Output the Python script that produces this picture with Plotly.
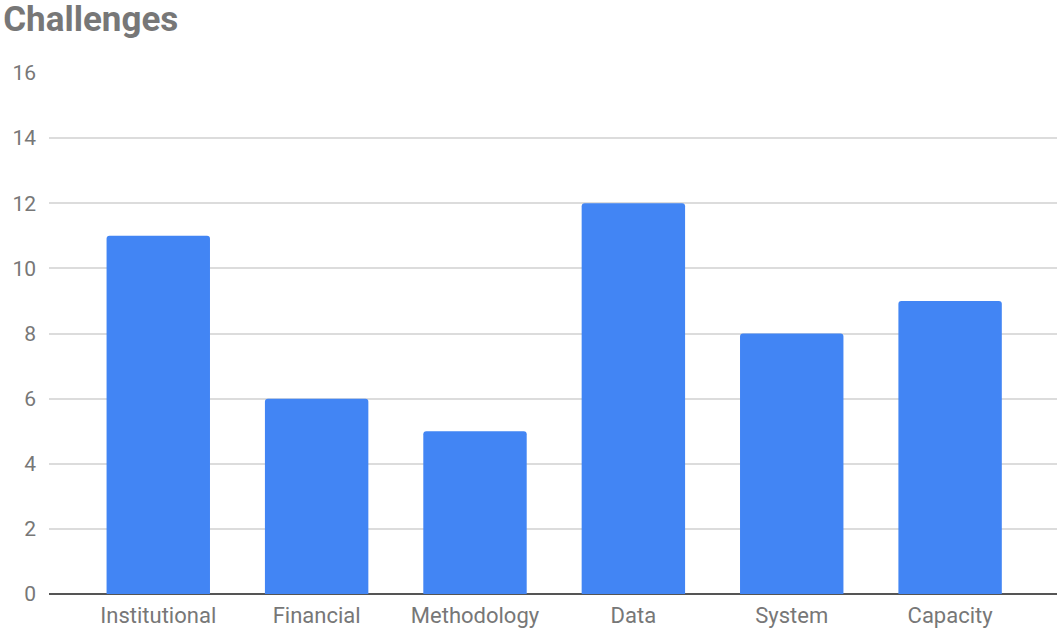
import plotly.graph_objects as go

categories = ["Institutional", "Financial", "Methodology", "Data", "System", "Capacity"]
counts = [11, 6, 5, 12, 8, 9]
y_ticks = [0, 2, 4, 6, 8, 10, 12, 14, 16]

label_grey = "#777777"

fig = go.Figure(
    go.Bar(
        x=list(range(len(categories))),
        y=counts,
        width=0.653,
        marker=dict(color="#4285F4", line=dict(width=0), cornerradius=3),
        hoverinfo="x+y",
    )
)

fig.update_layout(
    width=1058,
    height=628,
    margin=dict(l=49, r=1, t=73, b=34),
    paper_bgcolor="white",
    plot_bgcolor="white",
    showlegend=False,
    font=dict(family="Roboto, Arial, sans-serif", size=21, color=label_grey),
    title=dict(
        text="<b>Challenges</b>",
        x=0.003,
        xanchor="left",
        y=0.97,
        yanchor="middle",
        font=dict(family="Roboto, Arial, sans-serif", size=35, color=label_grey),
    ),
    bargap=0.35,
)

fig.update_xaxes(
    range=[-0.69, 5.675],
    tickmode="array",
    tickvals=list(range(len(categories))),
    ticktext=categories,
    tickfont=dict(size=22),
    showgrid=False,
    zeroline=False,
    showline=False,
    ticks="",
    ticklabelstandoff=6,
    fixedrange=True,
)

fig.update_yaxes(
    range=[0, 16],
    tickmode="array",
    tickvals=y_ticks,
    ticktext=[str(v) for v in y_ticks],
    showgrid=True,
    gridcolor="#dcdcdc",
    gridwidth=1.5,
    zeroline=True,
    zerolinecolor="#555555",
    zerolinewidth=2,
    showline=False,
    ticks="",
    ticklabelstandoff=12,
    fixedrange=True,
)

fig.write_html("out.html")
